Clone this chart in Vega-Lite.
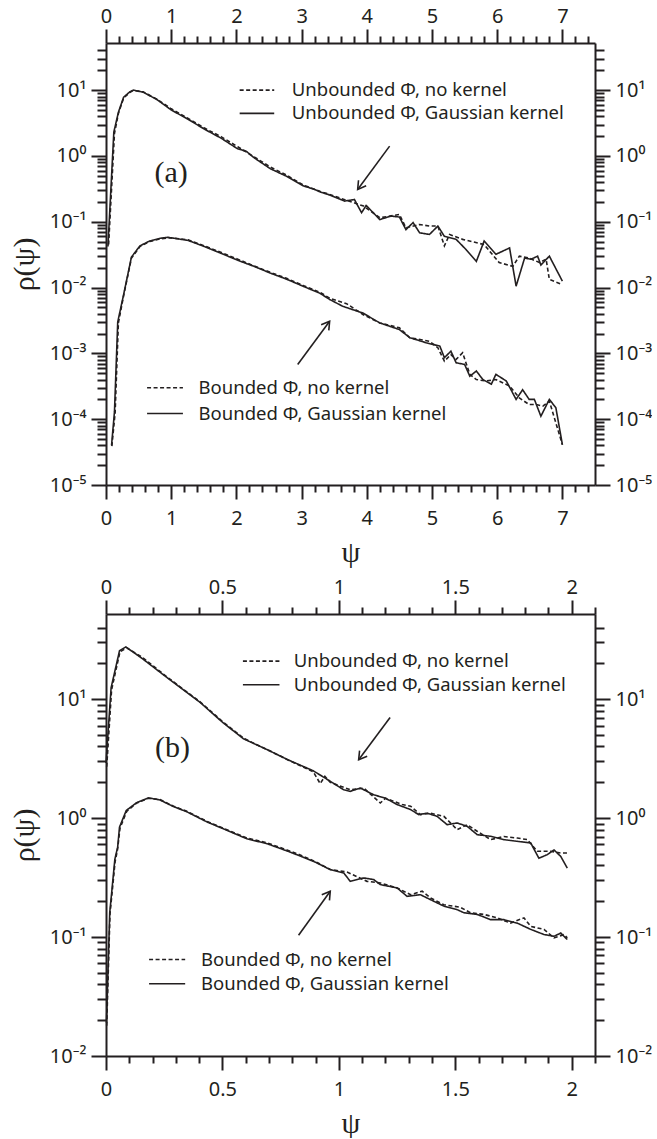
{
 "$schema": "https://vega.github.io/schema/vega-lite/v6.json",
 "padding": {"left": 9, "top": 6, "right": 0, "bottom": 0},
 "spacing": 10,
 "config": {
   "view": {"stroke": null},
   "axis": {"grid": false, "domainColor": "#231f20", "domainWidth": 2, "tickColor": "#231f20", "tickWidth": 2, "labelColor": "#231f20", "labelFont": "Noto Sans", "labelFontSize": 20, "labelFlush": false, "labelOverlap": false, "labelBound": false, "titleFont": "Liberation Serif", "titleFontSize": 30, "titleFontWeight": "normal", "titleColor": "#231f20"},
   "line": {"color": "#231f20", "strokeWidth": 1.6},
   "text": {"color": "#231f20"}
 },
 "datasets": {
  "curves": [
{"p":"a","s":"U","k":"n","x":0.04,"y":0.045},{"p":"a","s":"U","k":"n","x":0.13,"y":2.2},{"p":"a","s":"U","k":"n","x":0.19,"y":4.4},{"p":"a","s":"U","k":"n","x":0.27,"y":7.6},{"p":"a","s":"U","k":"n","x":0.37,"y":9.3},{"p":"a","s":"U","k":"n","x":0.42,"y":9.9},{"p":"a","s":"U","k":"n","x":0.57,"y":9.4},{"p":"a","s":"U","k":"n","x":0.78,"y":7.3},{"p":"a","s":"U","k":"n","x":1.0,"y":5.2},{"p":"a","s":"U","k":"n","x":1.26,"y":3.7},{"p":"a","s":"U","k":"n","x":1.51,"y":2.65},{"p":"a","s":"U","k":"n","x":1.77,"y":1.95},{"p":"a","s":"U","k":"n","x":2.02,"y":1.38},{"p":"a","s":"U","k":"n","x":2.27,"y":0.97},{"p":"a","s":"U","k":"n","x":2.52,"y":0.68},{"p":"a","s":"U","k":"n","x":2.77,"y":0.51},{"p":"a","s":"U","k":"n","x":3.03,"y":0.36},{"p":"a","s":"U","k":"n","x":3.28,"y":0.29},{"p":"a","s":"U","k":"n","x":3.43,"y":0.26},{"p":"a","s":"U","k":"n","x":3.7,"y":0.21},{"p":"a","s":"U","k":"n","x":3.95,"y":0.173},{"p":"a","s":"U","k":"n","x":4.2,"y":0.115},{"p":"a","s":"U","k":"n","x":4.5,"y":0.129},{"p":"a","s":"U","k":"n","x":4.6,"y":0.081},{"p":"a","s":"U","k":"n","x":4.81,"y":0.091},{"p":"a","s":"U","k":"n","x":4.96,"y":0.086},{"p":"a","s":"U","k":"n","x":5.09,"y":0.086},{"p":"a","s":"U","k":"n","x":5.19,"y":0.043},{"p":"a","s":"U","k":"n","x":5.27,"y":0.064},{"p":"a","s":"U","k":"n","x":5.47,"y":0.054},{"p":"a","s":"U","k":"n","x":5.8,"y":0.045},{"p":"a","s":"U","k":"n","x":6.03,"y":0.024},{"p":"a","s":"U","k":"n","x":6.24,"y":0.021},{"p":"a","s":"U","k":"n","x":6.34,"y":0.03},{"p":"a","s":"U","k":"n","x":6.49,"y":0.028},{"p":"a","s":"U","k":"n","x":6.65,"y":0.024},{"p":"a","s":"U","k":"n","x":6.75,"y":0.027},{"p":"a","s":"U","k":"n","x":6.8,"y":0.0133},{"p":"a","s":"U","k":"n","x":7.0,"y":0.0111},
{"p":"a","s":"U","k":"g","x":0.03,"y":0.042},{"p":"a","s":"U","k":"g","x":0.12,"y":2.3},{"p":"a","s":"U","k":"g","x":0.19,"y":4.6},{"p":"a","s":"U","k":"g","x":0.27,"y":7.8},{"p":"a","s":"U","k":"g","x":0.37,"y":9.5},{"p":"a","s":"U","k":"g","x":0.42,"y":10.0},{"p":"a","s":"U","k":"g","x":0.57,"y":9.3},{"p":"a","s":"U","k":"g","x":0.78,"y":7.2},{"p":"a","s":"U","k":"g","x":1.0,"y":5.0},{"p":"a","s":"U","k":"g","x":1.26,"y":3.6},{"p":"a","s":"U","k":"g","x":1.51,"y":2.55},{"p":"a","s":"U","k":"g","x":1.77,"y":1.85},{"p":"a","s":"U","k":"g","x":2.02,"y":1.28},{"p":"a","s":"U","k":"g","x":2.15,"y":1.18},{"p":"a","s":"U","k":"g","x":2.27,"y":0.94},{"p":"a","s":"U","k":"g","x":2.52,"y":0.64},{"p":"a","s":"U","k":"g","x":2.77,"y":0.49},{"p":"a","s":"U","k":"g","x":3.03,"y":0.35},{"p":"a","s":"U","k":"g","x":3.2,"y":0.31},{"p":"a","s":"U","k":"g","x":3.28,"y":0.285},{"p":"a","s":"U","k":"g","x":3.43,"y":0.255},{"p":"a","s":"U","k":"g","x":3.66,"y":0.206},{"p":"a","s":"U","k":"g","x":3.81,"y":0.218},{"p":"a","s":"U","k":"g","x":3.92,"y":0.137},{"p":"a","s":"U","k":"g","x":3.99,"y":0.177},{"p":"a","s":"U","k":"g","x":4.2,"y":0.108},{"p":"a","s":"U","k":"g","x":4.37,"y":0.122},{"p":"a","s":"U","k":"g","x":4.5,"y":0.118},{"p":"a","s":"U","k":"g","x":4.6,"y":0.076},{"p":"a","s":"U","k":"g","x":4.71,"y":0.097},{"p":"a","s":"U","k":"g","x":4.81,"y":0.068},{"p":"a","s":"U","k":"g","x":4.96,"y":0.064},{"p":"a","s":"U","k":"g","x":5.09,"y":0.086},{"p":"a","s":"U","k":"g","x":5.19,"y":0.06},{"p":"a","s":"U","k":"g","x":5.37,"y":0.054},{"p":"a","s":"U","k":"g","x":5.52,"y":0.038},{"p":"a","s":"U","k":"g","x":5.68,"y":0.025},{"p":"a","s":"U","k":"g","x":5.8,"y":0.051},{"p":"a","s":"U","k":"g","x":5.98,"y":0.032},{"p":"a","s":"U","k":"g","x":6.19,"y":0.04},{"p":"a","s":"U","k":"g","x":6.29,"y":0.0105},{"p":"a","s":"U","k":"g","x":6.42,"y":0.028},{"p":"a","s":"U","k":"g","x":6.52,"y":0.027},{"p":"a","s":"U","k":"g","x":6.62,"y":0.03},{"p":"a","s":"U","k":"g","x":6.67,"y":0.022},{"p":"a","s":"U","k":"g","x":6.8,"y":0.03},{"p":"a","s":"U","k":"g","x":7.0,"y":0.0125},
{"p":"a","s":"B","k":"n","x":0.09,"y":3.9e-5},{"p":"a","s":"B","k":"n","x":0.14,"y":1.25e-4},{"p":"a","s":"B","k":"n","x":0.19,"y":0.0029},{"p":"a","s":"B","k":"n","x":0.27,"y":0.0075},{"p":"a","s":"B","k":"n","x":0.39,"y":0.028},{"p":"a","s":"B","k":"n","x":0.52,"y":0.042},{"p":"a","s":"B","k":"n","x":0.67,"y":0.05},{"p":"a","s":"B","k":"n","x":0.83,"y":0.055},{"p":"a","s":"B","k":"n","x":1.0,"y":0.057},{"p":"a","s":"B","k":"n","x":1.26,"y":0.053},{"p":"a","s":"B","k":"n","x":1.51,"y":0.043},{"p":"a","s":"B","k":"n","x":1.77,"y":0.034},{"p":"a","s":"B","k":"n","x":2.02,"y":0.027},{"p":"a","s":"B","k":"n","x":2.27,"y":0.0213},{"p":"a","s":"B","k":"n","x":2.52,"y":0.017},{"p":"a","s":"B","k":"n","x":2.77,"y":0.0138},{"p":"a","s":"B","k":"n","x":3.03,"y":0.0107},{"p":"a","s":"B","k":"n","x":3.28,"y":0.0085},{"p":"a","s":"B","k":"n","x":3.43,"y":0.0069},{"p":"a","s":"B","k":"n","x":3.69,"y":0.0057},{"p":"a","s":"B","k":"n","x":3.94,"y":0.0039},{"p":"a","s":"B","k":"n","x":4.2,"y":0.0029},{"p":"a","s":"B","k":"n","x":4.5,"y":0.00245},{"p":"a","s":"B","k":"n","x":4.66,"y":0.00173},{"p":"a","s":"B","k":"n","x":4.96,"y":0.00153},{"p":"a","s":"B","k":"n","x":5.09,"y":0.00122},{"p":"a","s":"B","k":"n","x":5.19,"y":0.00076},{"p":"a","s":"B","k":"n","x":5.29,"y":0.00096},{"p":"a","s":"B","k":"n","x":5.37,"y":0.00081},{"p":"a","s":"B","k":"n","x":5.47,"y":0.00102},{"p":"a","s":"B","k":"n","x":5.58,"y":0.00048},{"p":"a","s":"B","k":"n","x":5.68,"y":0.0004},{"p":"a","s":"B","k":"n","x":5.83,"y":0.00038},{"p":"a","s":"B","k":"n","x":5.98,"y":0.0004},{"p":"a","s":"B","k":"n","x":6.19,"y":0.00032},{"p":"a","s":"B","k":"n","x":6.34,"y":0.00021},{"p":"a","s":"B","k":"n","x":6.49,"y":0.000167},{"p":"a","s":"B","k":"n","x":6.6,"y":0.000167},{"p":"a","s":"B","k":"n","x":6.7,"y":0.000158},{"p":"a","s":"B","k":"n","x":6.8,"y":0.000188},{"p":"a","s":"B","k":"n","x":7.0,"y":4.1e-5},
{"p":"a","s":"B","k":"g","x":0.085,"y":4.0e-5},{"p":"a","s":"B","k":"g","x":0.13,"y":1.3e-4},{"p":"a","s":"B","k":"g","x":0.18,"y":0.003},{"p":"a","s":"B","k":"g","x":0.27,"y":0.0078},{"p":"a","s":"B","k":"g","x":0.39,"y":0.029},{"p":"a","s":"B","k":"g","x":0.52,"y":0.043},{"p":"a","s":"B","k":"g","x":0.67,"y":0.051},{"p":"a","s":"B","k":"g","x":0.83,"y":0.056},{"p":"a","s":"B","k":"g","x":0.95,"y":0.058},{"p":"a","s":"B","k":"g","x":1.26,"y":0.052},{"p":"a","s":"B","k":"g","x":1.51,"y":0.042},{"p":"a","s":"B","k":"g","x":1.77,"y":0.033},{"p":"a","s":"B","k":"g","x":2.02,"y":0.026},{"p":"a","s":"B","k":"g","x":2.27,"y":0.021},{"p":"a","s":"B","k":"g","x":2.52,"y":0.0166},{"p":"a","s":"B","k":"g","x":2.77,"y":0.0134},{"p":"a","s":"B","k":"g","x":3.03,"y":0.0104},{"p":"a","s":"B","k":"g","x":3.28,"y":0.0082},{"p":"a","s":"B","k":"g","x":3.43,"y":0.0066},{"p":"a","s":"B","k":"g","x":3.63,"y":0.0052},{"p":"a","s":"B","k":"g","x":3.94,"y":0.0041},{"p":"a","s":"B","k":"g","x":4.2,"y":0.0029},{"p":"a","s":"B","k":"g","x":4.5,"y":0.0023},{"p":"a","s":"B","k":"g","x":4.66,"y":0.00173},{"p":"a","s":"B","k":"g","x":4.91,"y":0.00145},{"p":"a","s":"B","k":"g","x":5.01,"y":0.00137},{"p":"a","s":"B","k":"g","x":5.12,"y":0.00129},{"p":"a","s":"B","k":"g","x":5.19,"y":0.00086},{"p":"a","s":"B","k":"g","x":5.29,"y":0.00108},{"p":"a","s":"B","k":"g","x":5.37,"y":0.00072},{"p":"a","s":"B","k":"g","x":5.5,"y":0.00068},{"p":"a","s":"B","k":"g","x":5.58,"y":0.00045},{"p":"a","s":"B","k":"g","x":5.68,"y":0.00054},{"p":"a","s":"B","k":"g","x":5.78,"y":0.0004},{"p":"a","s":"B","k":"g","x":5.91,"y":0.00034},{"p":"a","s":"B","k":"g","x":5.98,"y":0.00048},{"p":"a","s":"B","k":"g","x":6.14,"y":0.00038},{"p":"a","s":"B","k":"g","x":6.29,"y":0.0002},{"p":"a","s":"B","k":"g","x":6.39,"y":0.00028},{"p":"a","s":"B","k":"g","x":6.49,"y":0.0002},{"p":"a","s":"B","k":"g","x":6.57,"y":0.0002},{"p":"a","s":"B","k":"g","x":6.67,"y":0.000111},{"p":"a","s":"B","k":"g","x":6.8,"y":0.0002},{"p":"a","s":"B","k":"g","x":6.9,"y":0.000149},{"p":"a","s":"B","k":"g","x":7.0,"y":4.1e-5},
{"p":"b","s":"U","k":"n","x":0.003,"y":2.7},{"p":"b","s":"U","k":"n","x":0.024,"y":12},{"p":"b","s":"U","k":"n","x":0.06,"y":25},{"p":"b","s":"U","k":"n","x":0.089,"y":27},{"p":"b","s":"U","k":"n","x":0.155,"y":22.5},{"p":"b","s":"U","k":"n","x":0.26,"y":15.5},{"p":"b","s":"U","k":"n","x":0.347,"y":11.5},{"p":"b","s":"U","k":"n","x":0.404,"y":9.5},{"p":"b","s":"U","k":"n","x":0.5,"y":6.5},{"p":"b","s":"U","k":"n","x":0.59,"y":4.7},{"p":"b","s":"U","k":"n","x":0.7,"y":3.7},{"p":"b","s":"U","k":"n","x":0.78,"y":3.1},{"p":"b","s":"U","k":"n","x":0.89,"y":2.45},{"p":"b","s":"U","k":"n","x":0.92,"y":1.95},{"p":"b","s":"U","k":"n","x":0.94,"y":2.25},{"p":"b","s":"U","k":"n","x":0.963,"y":2.0},{"p":"b","s":"U","k":"n","x":1.049,"y":1.73},{"p":"b","s":"U","k":"n","x":1.107,"y":1.79},{"p":"b","s":"U","k":"n","x":1.178,"y":1.34},{"p":"b","s":"U","k":"n","x":1.2,"y":1.47},{"p":"b","s":"U","k":"n","x":1.272,"y":1.3},{"p":"b","s":"U","k":"n","x":1.308,"y":1.26},{"p":"b","s":"U","k":"n","x":1.35,"y":1.07},{"p":"b","s":"U","k":"n","x":1.394,"y":1.1},{"p":"b","s":"U","k":"n","x":1.451,"y":1.035},{"p":"b","s":"U","k":"n","x":1.508,"y":0.8},{"p":"b","s":"U","k":"n","x":1.551,"y":0.88},{"p":"b","s":"U","k":"n","x":1.594,"y":0.775},{"p":"b","s":"U","k":"n","x":1.652,"y":0.66},{"p":"b","s":"U","k":"n","x":1.709,"y":0.7},{"p":"b","s":"U","k":"n","x":1.766,"y":0.68},{"p":"b","s":"U","k":"n","x":1.809,"y":0.66},{"p":"b","s":"U","k":"n","x":1.852,"y":0.526},{"p":"b","s":"U","k":"n","x":1.91,"y":0.526},{"p":"b","s":"U","k":"n","x":1.953,"y":0.509},{"p":"b","s":"U","k":"n","x":1.981,"y":0.509},
{"p":"b","s":"U","k":"g","x":0.0,"y":2.9},{"p":"b","s":"U","k":"g","x":0.022,"y":12.5},{"p":"b","s":"U","k":"g","x":0.058,"y":25.5},{"p":"b","s":"U","k":"g","x":0.085,"y":27.5},{"p":"b","s":"U","k":"g","x":0.155,"y":22},{"p":"b","s":"U","k":"g","x":0.26,"y":15.3},{"p":"b","s":"U","k":"g","x":0.347,"y":11.4},{"p":"b","s":"U","k":"g","x":0.404,"y":9.4},{"p":"b","s":"U","k":"g","x":0.5,"y":6.4},{"p":"b","s":"U","k":"g","x":0.59,"y":4.65},{"p":"b","s":"U","k":"g","x":0.7,"y":3.7},{"p":"b","s":"U","k":"g","x":0.78,"y":3.1},{"p":"b","s":"U","k":"g","x":0.89,"y":2.5},{"p":"b","s":"U","k":"g","x":0.963,"y":2.04},{"p":"b","s":"U","k":"g","x":1.021,"y":1.73},{"p":"b","s":"U","k":"g","x":1.049,"y":1.68},{"p":"b","s":"U","k":"g","x":1.092,"y":1.79},{"p":"b","s":"U","k":"g","x":1.15,"y":1.57},{"p":"b","s":"U","k":"g","x":1.2,"y":1.47},{"p":"b","s":"U","k":"g","x":1.25,"y":1.3},{"p":"b","s":"U","k":"g","x":1.308,"y":1.18},{"p":"b","s":"U","k":"g","x":1.343,"y":1.07},{"p":"b","s":"U","k":"g","x":1.379,"y":1.1},{"p":"b","s":"U","k":"g","x":1.422,"y":1.035},{"p":"b","s":"U","k":"g","x":1.465,"y":0.88},{"p":"b","s":"U","k":"g","x":1.508,"y":0.91},{"p":"b","s":"U","k":"g","x":1.551,"y":0.853},{"p":"b","s":"U","k":"g","x":1.594,"y":0.726},{"p":"b","s":"U","k":"g","x":1.652,"y":0.703},{"p":"b","s":"U","k":"g","x":1.709,"y":0.659},{"p":"b","s":"U","k":"g","x":1.766,"y":0.638},{"p":"b","s":"U","k":"g","x":1.824,"y":0.618},{"p":"b","s":"U","k":"g","x":1.859,"y":0.46},{"p":"b","s":"U","k":"g","x":1.895,"y":0.493},{"p":"b","s":"U","k":"g","x":1.924,"y":0.54},{"p":"b","s":"U","k":"g","x":1.953,"y":0.476},{"p":"b","s":"U","k":"g","x":1.981,"y":0.38},
{"p":"b","s":"B","k":"n","x":0.003,"y":0.018},{"p":"b","s":"B","k":"n","x":0.017,"y":0.155},{"p":"b","s":"B","k":"n","x":0.039,"y":0.43},{"p":"b","s":"B","k":"n","x":0.05,"y":0.55},{"p":"b","s":"B","k":"n","x":0.06,"y":0.82},{"p":"b","s":"B","k":"n","x":0.089,"y":1.14},{"p":"b","s":"B","k":"n","x":0.132,"y":1.34},{"p":"b","s":"B","k":"n","x":0.182,"y":1.47},{"p":"b","s":"B","k":"n","x":0.232,"y":1.43},{"p":"b","s":"B","k":"n","x":0.29,"y":1.26},{"p":"b","s":"B","k":"n","x":0.347,"y":1.14},{"p":"b","s":"B","k":"n","x":0.433,"y":0.94},{"p":"b","s":"B","k":"n","x":0.519,"y":0.8},{"p":"b","s":"B","k":"n","x":0.605,"y":0.68},{"p":"b","s":"B","k":"n","x":0.691,"y":0.62},{"p":"b","s":"B","k":"n","x":0.777,"y":0.54},{"p":"b","s":"B","k":"n","x":0.834,"y":0.49},{"p":"b","s":"B","k":"n","x":0.9,"y":0.43},{"p":"b","s":"B","k":"n","x":0.963,"y":0.37},{"p":"b","s":"B","k":"n","x":1.035,"y":0.352},{"p":"b","s":"B","k":"n","x":1.121,"y":0.294},{"p":"b","s":"B","k":"n","x":1.178,"y":0.285},{"p":"b","s":"B","k":"n","x":1.25,"y":0.259},{"p":"b","s":"B","k":"n","x":1.308,"y":0.227},{"p":"b","s":"B","k":"n","x":1.358,"y":0.243},{"p":"b","s":"B","k":"n","x":1.394,"y":0.213},{"p":"b","s":"B","k":"n","x":1.451,"y":0.187},{"p":"b","s":"B","k":"n","x":1.522,"y":0.178},{"p":"b","s":"B","k":"n","x":1.565,"y":0.16},{"p":"b","s":"B","k":"n","x":1.623,"y":0.155},{"p":"b","s":"B","k":"n","x":1.68,"y":0.145},{"p":"b","s":"B","k":"n","x":1.737,"y":0.131},{"p":"b","s":"B","k":"n","x":1.795,"y":0.145},{"p":"b","s":"B","k":"n","x":1.824,"y":0.123},{"p":"b","s":"B","k":"n","x":1.881,"y":0.116},{"p":"b","s":"B","k":"n","x":1.924,"y":0.0985},{"p":"b","s":"B","k":"n","x":1.967,"y":0.105},{"p":"b","s":"B","k":"n","x":1.981,"y":0.0985},
{"p":"b","s":"B","k":"g","x":0.002,"y":0.019},{"p":"b","s":"B","k":"g","x":0.016,"y":0.16},{"p":"b","s":"B","k":"g","x":0.038,"y":0.45},{"p":"b","s":"B","k":"g","x":0.05,"y":0.57},{"p":"b","s":"B","k":"g","x":0.058,"y":0.84},{"p":"b","s":"B","k":"g","x":0.087,"y":1.16},{"p":"b","s":"B","k":"g","x":0.132,"y":1.35},{"p":"b","s":"B","k":"g","x":0.182,"y":1.48},{"p":"b","s":"B","k":"g","x":0.232,"y":1.42},{"p":"b","s":"B","k":"g","x":0.29,"y":1.25},{"p":"b","s":"B","k":"g","x":0.347,"y":1.13},{"p":"b","s":"B","k":"g","x":0.433,"y":0.93},{"p":"b","s":"B","k":"g","x":0.519,"y":0.79},{"p":"b","s":"B","k":"g","x":0.605,"y":0.67},{"p":"b","s":"B","k":"g","x":0.691,"y":0.61},{"p":"b","s":"B","k":"g","x":0.777,"y":0.53},{"p":"b","s":"B","k":"g","x":0.834,"y":0.48},{"p":"b","s":"B","k":"g","x":0.9,"y":0.425},{"p":"b","s":"B","k":"g","x":0.963,"y":0.369},{"p":"b","s":"B","k":"g","x":1.021,"y":0.346},{"p":"b","s":"B","k":"g","x":1.049,"y":0.294},{"p":"b","s":"B","k":"g","x":1.107,"y":0.314},{"p":"b","s":"B","k":"g","x":1.15,"y":0.304},{"p":"b","s":"B","k":"g","x":1.178,"y":0.276},{"p":"b","s":"B","k":"g","x":1.25,"y":0.259},{"p":"b","s":"B","k":"g","x":1.293,"y":0.22},{"p":"b","s":"B","k":"g","x":1.35,"y":0.227},{"p":"b","s":"B","k":"g","x":1.394,"y":0.206},{"p":"b","s":"B","k":"g","x":1.451,"y":0.182},{"p":"b","s":"B","k":"g","x":1.508,"y":0.17},{"p":"b","s":"B","k":"g","x":1.537,"y":0.16},{"p":"b","s":"B","k":"g","x":1.594,"y":0.155},{"p":"b","s":"B","k":"g","x":1.652,"y":0.14},{"p":"b","s":"B","k":"g","x":1.709,"y":0.14},{"p":"b","s":"B","k":"g","x":1.766,"y":0.131},{"p":"b","s":"B","k":"g","x":1.824,"y":0.116},{"p":"b","s":"B","k":"g","x":1.881,"y":0.105},{"p":"b","s":"B","k":"g","x":1.924,"y":0.1015},{"p":"b","s":"B","k":"g","x":1.953,"y":0.108},{"p":"b","s":"B","k":"g","x":1.981,"y":0.0953}
  ],
  "legendLines": [
{"p":"a","id":"a1","k":"n","x":2.05,"y":10},{"p":"a","id":"a1","k":"n","x":2.58,"y":10},
{"p":"a","id":"a2","k":"g","x":2.05,"y":4.43},{"p":"a","id":"a2","k":"g","x":2.58,"y":4.43},
{"p":"a","id":"a3","k":"n","x":0.63,"y":3.0e-4},{"p":"a","id":"a3","k":"n","x":1.18,"y":3.0e-4},
{"p":"a","id":"a4","k":"g","x":0.63,"y":1.22e-4},{"p":"a","id":"a4","k":"g","x":1.18,"y":1.22e-4},
{"p":"b","id":"b1","k":"n","x":0.588,"y":20.9},{"p":"b","id":"b1","k":"n","x":0.745,"y":20.9},
{"p":"b","id":"b2","k":"g","x":0.588,"y":13.2},{"p":"b","id":"b2","k":"g","x":0.745,"y":13.2},
{"p":"b","id":"b3","k":"n","x":0.185,"y":0.0647},{"p":"b","id":"b3","k":"n","x":0.34,"y":0.0647},
{"p":"b","id":"b4","k":"g","x":0.185,"y":0.0405},{"p":"b","id":"b4","k":"g","x":0.34,"y":0.0405}
  ],
  "legendText": [
{"p":"a","x":2.85,"y":10,"t":"Unbounded Φ, no kernel"},
{"p":"a","x":2.85,"y":4.43,"t":"Unbounded Φ, Gaussian kernel"},
{"p":"a","x":1.42,"y":3.0e-4,"t":"Bounded Φ, no kernel"},
{"p":"a","x":1.42,"y":1.22e-4,"t":"Bounded Φ, Gaussian kernel"},
{"p":"b","x":0.806,"y":20.9,"t":"Unbounded Φ, no kernel"},
{"p":"b","x":0.806,"y":13.2,"t":"Unbounded Φ, Gaussian kernel"},
{"p":"b","x":0.408,"y":0.0647,"t":"Bounded Φ, no kernel"},
{"p":"b","x":0.408,"y":0.0405,"t":"Bounded Φ, Gaussian kernel"}
  ],
  "arrows": [
{"p":"a","id":"au","x":4.35,"y":1.41},{"p":"a","id":"au","x":3.86,"y":0.31},
{"p":"a","id":"al","x":2.94,"y":6.78e-4},{"p":"a","id":"al","x":3.43,"y":3.08e-3},
{"p":"b","id":"bu","x":1.22,"y":7.0},{"p":"b","id":"bu","x":1.085,"y":3.09},
{"p":"b","id":"bl","x":0.827,"y":0.1037},{"p":"b","id":"bl","x":0.963,"y":0.243}
  ],
  "heads": [
{"p":"a","d":"dl","x":3.86,"y":0.31},
{"p":"a","d":"ur","x":3.43,"y":3.08e-3},
{"p":"b","d":"dl","x":1.085,"y":3.09},
{"p":"b","d":"ur","x":0.963,"y":0.243}
  ],
  "labels": [
{"p":"a","x":1.0,"y":0.56,"t":"(a)"},
{"p":"b","x":0.286,"y":3.88,"t":"(b)"}
  ]
 },
 "vconcat": [
  {
   "width": 489, "height": 442,
   "resolve": {"axis": {"x": "independent", "y": "independent"}},
   "layer": [
    {"data": {"name": "curves"}, "transform": [{"filter": "datum.p === 'a'"}],
     "mark": {"type": "line", "strokeWidth": 1.6},
     "encoding": {
       "x": {"field": "x", "type": "quantitative", "scale": {"domain": [0, 7.5], "nice": false, "zero": false},
             "axis": {"orient": "bottom", "values": [0,1,2,3,4,5,6,7], "format": "d", "tickSize": 14, "labelPadding": 9, "title": "ψ", "titlePadding": 9}},
       "y": {"field": "y", "type": "quantitative", "scale": {"type": "log", "domain": [1e-5, 52], "nice": false},
             "axis": {"orient": "left", "values": [1e-5,1e-4,1e-3,0.01,0.1,1,10], "labelExpr": "'10' + (datum.value < 1 ? '⁻' : '') + substring('⁰¹²³⁴⁵⁶⁷⁸⁹', abs(round(log(datum.value)/LN10)), abs(round(log(datum.value)/LN10)) + 1)", "tickSize": 15, "labelPadding": 5, "title": "ρ(ψ)", "titlePadding": 10}},
       "detail": {"field": "s"},
       "strokeDash": {"field": "k", "type": "nominal", "scale": {"domain": ["n","g"], "range": [[4,2.5],[1,0]]}, "legend": null}
     }},
    {"data": {"name": "legendText"}, "transform": [{"filter": "datum.p === 'a'"}],
     "mark": {"type": "text", "align": "left", "baseline": "middle", "font": "Noto Sans", "fontSize": 18.5},
     "encoding": {
       "x": {"field": "x", "type": "quantitative", "scale": {"domain": [0, 7.5], "nice": false, "zero": false},
             "axis": {"orient": "top", "values": [0,1,2,3,4,5,6,7], "format": "d", "tickSize": 14, "labelPadding": 3, "title": null}},
       "y": {"field": "y", "type": "quantitative", "scale": {"type": "log", "domain": [1e-5, 52], "nice": false},
             "axis": {"orient": "right", "values": [1e-5,1e-4,1e-3,0.01,0.1,1,10], "labelExpr": "'10' + (datum.value < 1 ? '⁻' : '') + substring('⁰¹²³⁴⁵⁶⁷⁸⁹', abs(round(log(datum.value)/LN10)), abs(round(log(datum.value)/LN10)) + 1)", "tickSize": 15, "labelPadding": 5, "title": null}},
       "text": {"field": "t"}
     }},
    {"data": {"name": "legendLines"}, "transform": [{"filter": "datum.p === 'a'"}],
     "mark": {"type": "line", "strokeWidth": 1.6},
     "encoding": {
       "x": {"field": "x", "type": "quantitative", "scale": {"domain": [0, 7.5], "nice": false, "zero": false},
             "axis": {"orient": "bottom", "values": [0.2,0.4,0.6,0.8,1.2,1.4,1.6,1.8,2.2,2.4,2.6,2.8,3.2,3.4,3.6,3.8,4.2,4.4,4.6,4.8,5.2,5.4,5.6,5.8,6.2,6.4,6.6,6.8,7.2,7.4], "labels": false, "domain": false, "tickSize": 7, "title": null}},
       "y": {"field": "y", "type": "quantitative", "scale": {"type": "log", "domain": [1e-5, 52], "nice": false},
             "axis": {"orient": "left", "values": [2e-5,3e-5,4e-5,5e-5,6e-5,7e-5,8e-5,9e-5,2e-4,3e-4,4e-4,5e-4,6e-4,7e-4,8e-4,9e-4,0.002,0.003,0.004,0.005,0.006,0.007,0.008,0.009,0.02,0.03,0.04,0.05,0.06,0.07,0.08,0.09,0.2,0.3,0.4,0.5,0.6,0.7,0.8,0.9,2,3,4,5,6,7,8,9,20,30,40], "labels": false, "domain": false, "tickSize": 9, "title": null}},
       "detail": {"field": "id"},
       "strokeDash": {"field": "k", "type": "nominal", "scale": {"domain": ["n","g"], "range": [[4,2.5],[1,0]]}, "legend": null}
     }},
    {"data": {"name": "arrows"}, "transform": [{"filter": "datum.p === 'a'"}],
     "mark": {"type": "line", "strokeWidth": 1.6},
     "encoding": {
       "x": {"field": "x", "type": "quantitative", "scale": {"domain": [0, 7.5], "nice": false, "zero": false},
             "axis": {"orient": "top", "values": [0.2,0.4,0.6,0.8,1.2,1.4,1.6,1.8,2.2,2.4,2.6,2.8,3.2,3.4,3.6,3.8,4.2,4.4,4.6,4.8,5.2,5.4,5.6,5.8,6.2,6.4,6.6,6.8,7.2,7.4], "labels": false, "domain": false, "tickSize": 7, "title": null}},
       "y": {"field": "y", "type": "quantitative", "scale": {"type": "log", "domain": [1e-5, 52], "nice": false},
             "axis": {"orient": "right", "values": [2e-5,3e-5,4e-5,5e-5,6e-5,7e-5,8e-5,9e-5,2e-4,3e-4,4e-4,5e-4,6e-4,7e-4,8e-4,9e-4,0.002,0.003,0.004,0.005,0.006,0.007,0.008,0.009,0.02,0.03,0.04,0.05,0.06,0.07,0.08,0.09,0.2,0.3,0.4,0.5,0.6,0.7,0.8,0.9,2,3,4,5,6,7,8,9,20,30,40], "labels": false, "domain": false, "tickSize": 9, "title": null}},
       "detail": {"field": "id"}
     }},
    {"data": {"name": "heads"}, "transform": [{"filter": "datum.p === 'a' && datum.d === 'dl'"}],
     "mark": {"type": "point", "shape": "M -1 -0.6 L 0 0 L -1 0.6", "filled": false, "size": 250, "strokeWidth": 1.6, "color": "#231f20", "opacity": 1, "angle": 126.2},
     "encoding": {
       "x": {"field": "x", "type": "quantitative", "scale": {"domain": [0, 7.5], "nice": false, "zero": false}, "axis": null},
       "y": {"field": "y", "type": "quantitative", "scale": {"type": "log", "domain": [1e-5, 52], "nice": false}, "axis": null}
     }},
    {"data": {"name": "heads"}, "transform": [{"filter": "datum.p === 'a' && datum.d === 'ur'"}],
     "mark": {"type": "point", "shape": "M -1 -0.6 L 0 0 L -1 0.6", "filled": false, "size": 250, "strokeWidth": 1.6, "color": "#231f20", "opacity": 1, "angle": 306.2},
     "encoding": {
       "x": {"field": "x", "type": "quantitative", "scale": {"domain": [0, 7.5], "nice": false, "zero": false}, "axis": null},
       "y": {"field": "y", "type": "quantitative", "scale": {"type": "log", "domain": [1e-5, 52], "nice": false}, "axis": null}
     }},
    {"data": {"name": "labels"}, "transform": [{"filter": "datum.p === 'a'"}],
     "mark": {"type": "text", "align": "center", "baseline": "middle", "font": "Liberation Serif", "fontSize": 30},
     "encoding": {
       "x": {"field": "x", "type": "quantitative", "scale": {"domain": [0, 7.5], "nice": false, "zero": false}, "axis": null},
       "y": {"field": "y", "type": "quantitative", "scale": {"type": "log", "domain": [1e-5, 52], "nice": false}, "axis": null},
       "text": {"field": "t"}
     }}
   ]
  },
  {
   "width": 489, "height": 442,
   "resolve": {"axis": {"x": "independent", "y": "independent"}},
   "layer": [
    {"data": {"name": "curves"}, "transform": [{"filter": "datum.p === 'b'"}],
     "mark": {"type": "line", "strokeWidth": 1.6},
     "encoding": {
       "x": {"field": "x", "type": "quantitative", "scale": {"domain": [0, 2.1], "nice": false, "zero": false},
             "axis": {"orient": "bottom", "values": [0,0.5,1,1.5,2], "format": "~g", "tickSize": 14, "labelPadding": 9, "title": "ψ", "titlePadding": 9}},
       "y": {"field": "y", "type": "quantitative", "scale": {"type": "log", "domain": [0.01, 52], "nice": false},
             "axis": {"orient": "left", "values": [0.01,0.1,1,10], "labelExpr": "'10' + (datum.value < 1 ? '⁻' : '') + substring('⁰¹²³⁴⁵⁶⁷⁸⁹', abs(round(log(datum.value)/LN10)), abs(round(log(datum.value)/LN10)) + 1)", "tickSize": 15, "labelPadding": 5, "title": "ρ(ψ)", "titlePadding": 10}},
       "detail": {"field": "s"},
       "strokeDash": {"field": "k", "type": "nominal", "scale": {"domain": ["n","g"], "range": [[4,2.5],[1,0]]}, "legend": null}
     }},
    {"data": {"name": "legendText"}, "transform": [{"filter": "datum.p === 'b'"}],
     "mark": {"type": "text", "align": "left", "baseline": "middle", "font": "Noto Sans", "fontSize": 18.5},
     "encoding": {
       "x": {"field": "x", "type": "quantitative", "scale": {"domain": [0, 2.1], "nice": false, "zero": false},
             "axis": {"orient": "top", "values": [0,0.5,1,1.5,2], "format": "~g", "tickSize": 14, "labelPadding": 3, "title": null}},
       "y": {"field": "y", "type": "quantitative", "scale": {"type": "log", "domain": [0.01, 52], "nice": false},
             "axis": {"orient": "right", "values": [0.01,0.1,1,10], "labelExpr": "'10' + (datum.value < 1 ? '⁻' : '') + substring('⁰¹²³⁴⁵⁶⁷⁸⁹', abs(round(log(datum.value)/LN10)), abs(round(log(datum.value)/LN10)) + 1)", "tickSize": 15, "labelPadding": 5, "title": null}},
       "text": {"field": "t"}
     }},
    {"data": {"name": "legendLines"}, "transform": [{"filter": "datum.p === 'b'"}],
     "mark": {"type": "line", "strokeWidth": 1.6},
     "encoding": {
       "x": {"field": "x", "type": "quantitative", "scale": {"domain": [0, 2.1], "nice": false, "zero": false},
             "axis": {"orient": "bottom", "values": [0.1,0.2,0.3,0.4,0.6,0.7,0.8,0.9,1.1,1.2,1.3,1.4,1.6,1.7,1.8,1.9,2.1], "labels": false, "domain": false, "tickSize": 7, "title": null}},
       "y": {"field": "y", "type": "quantitative", "scale": {"type": "log", "domain": [0.01, 52], "nice": false},
             "axis": {"orient": "left", "values": [0.02,0.03,0.04,0.05,0.06,0.07,0.08,0.09,0.2,0.3,0.4,0.5,0.6,0.7,0.8,0.9,2,3,4,5,6,7,8,9,20,30,40], "labels": false, "domain": false, "tickSize": 9, "title": null}},
       "detail": {"field": "id"},
       "strokeDash": {"field": "k", "type": "nominal", "scale": {"domain": ["n","g"], "range": [[4,2.5],[1,0]]}, "legend": null}
     }},
    {"data": {"name": "arrows"}, "transform": [{"filter": "datum.p === 'b'"}],
     "mark": {"type": "line", "strokeWidth": 1.6},
     "encoding": {
       "x": {"field": "x", "type": "quantitative", "scale": {"domain": [0, 2.1], "nice": false, "zero": false},
             "axis": {"orient": "top", "values": [0.1,0.2,0.3,0.4,0.6,0.7,0.8,0.9,1.1,1.2,1.3,1.4,1.6,1.7,1.8,1.9,2.1], "labels": false, "domain": false, "tickSize": 7, "title": null}},
       "y": {"field": "y", "type": "quantitative", "scale": {"type": "log", "domain": [0.01, 52], "nice": false},
             "axis": {"orient": "right", "values": [0.02,0.03,0.04,0.05,0.06,0.07,0.08,0.09,0.2,0.3,0.4,0.5,0.6,0.7,0.8,0.9,2,3,4,5,6,7,8,9,20,30,40], "labels": false, "domain": false, "tickSize": 9, "title": null}},
       "detail": {"field": "id"}
     }},
    {"data": {"name": "heads"}, "transform": [{"filter": "datum.p === 'b' && datum.d === 'dl'"}],
     "mark": {"type": "point", "shape": "M -1 -0.6 L 0 0 L -1 0.6", "filled": false, "size": 250, "strokeWidth": 1.6, "color": "#231f20", "opacity": 1, "angle": 126.8},
     "encoding": {
       "x": {"field": "x", "type": "quantitative", "scale": {"domain": [0, 2.1], "nice": false, "zero": false}, "axis": null},
       "y": {"field": "y", "type": "quantitative", "scale": {"type": "log", "domain": [0.01, 52], "nice": false}, "axis": null}
     }},
    {"data": {"name": "heads"}, "transform": [{"filter": "datum.p === 'b' && datum.d === 'ur'"}],
     "mark": {"type": "point", "shape": "M -1 -0.6 L 0 0 L -1 0.6", "filled": false, "size": 250, "strokeWidth": 1.6, "color": "#231f20", "opacity": 1, "angle": 305.8},
     "encoding": {
       "x": {"field": "x", "type": "quantitative", "scale": {"domain": [0, 2.1], "nice": false, "zero": false}, "axis": null},
       "y": {"field": "y", "type": "quantitative", "scale": {"type": "log", "domain": [0.01, 52], "nice": false}, "axis": null}
     }},
    {"data": {"name": "labels"}, "transform": [{"filter": "datum.p === 'b'"}],
     "mark": {"type": "text", "align": "center", "baseline": "middle", "font": "Liberation Serif", "fontSize": 30},
     "encoding": {
       "x": {"field": "x", "type": "quantitative", "scale": {"domain": [0, 2.1], "nice": false, "zero": false}, "axis": null},
       "y": {"field": "y", "type": "quantitative", "scale": {"type": "log", "domain": [0.01, 52], "nice": false}, "axis": null},
       "text": {"field": "t"}
     }}
   ]
  }
 ]
}
